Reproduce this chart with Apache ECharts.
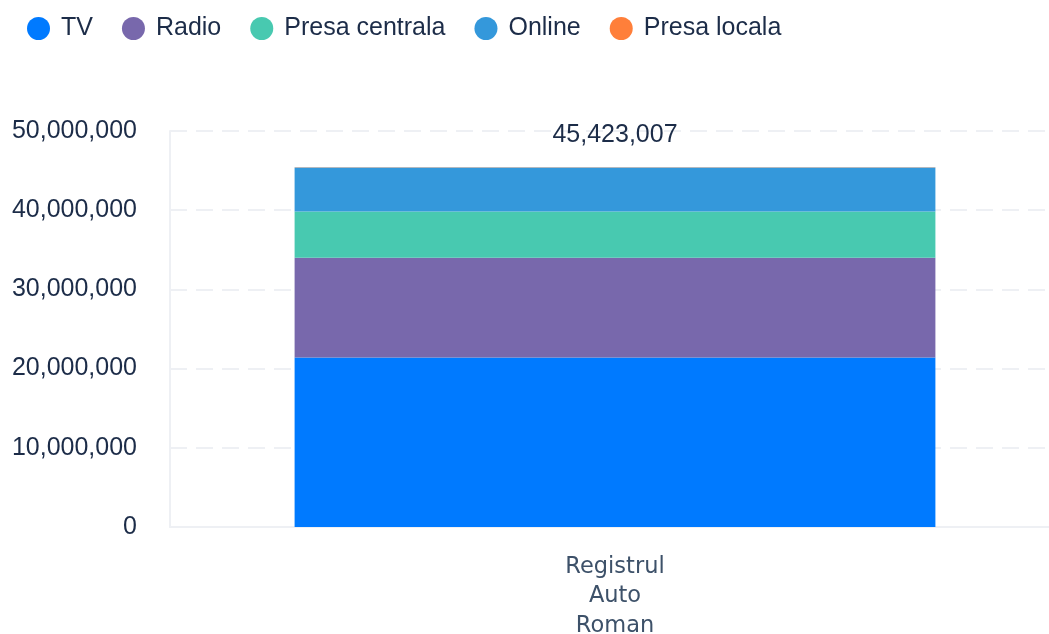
<!DOCTYPE html>
<html lang="en">
<head>
    <meta charset="UTF-8">
    <title>Registrul Auto Roman</title>
    <style>
        html,body{
            margin:0;
            padding:0;
            background:#fff;
        }
        #chart{
            width:1049px;
            height:634px;
        }
    </style>
</head>
<body>
<div id="chart"></div>
<script src="https://cdn.jsdelivr.net/npm/echarts@6/dist/echarts.min.js"></script>
<script>
    var categories = ['Registrul\nAuto\nRoman'];
    var seriesNames = ['TV', 'Radio', 'Presa centrala', 'Online', 'Presa locala'];
    var tvValues = [21400000];
    var radioValues = [12600000];
    var presaCentralaValues = [5850000];
    var onlineValues = [5540000];
    var presaLocalaValues = [33007];
    var yTicks = [0, 10000000, 20000000, 30000000, 40000000, 50000000];

    var seriesColors = ['#007aff', '#7868ac', '#48c9b0', '#3498db', '#ff7f3a'];
    var allValues = [tvValues, radioValues, presaCentralaValues, onlineValues, presaLocalaValues];

    function fmt(v) {
        return Number(v).toLocaleString('en-US');
    }

    // total of the stack for each category
    var totals = categories.map(function (c, i) {
        var s = 0;
        allValues.forEach(function (arr) { s += arr[i]; });
        return s;
    });

    var series = seriesNames.map(function (name, k) {
        var last = k === seriesNames.length - 1;
        return {
            name: name,
            type: 'bar',
            stack: 'total',
            barWidth: '72%',
            data: allValues[k],
            itemStyle: {color: seriesColors[k]},
            label: {
                show: last,
                position: 'top',
                distance: 20,
                fontFamily: 'Liberation Sans',
                fontSize: 25,
                color: '#1c2c48',
                formatter: function (p) { return fmt(totals[p.dataIndex]); }
            }
        };
    });

    var option = {
        animation: false,
        backgroundColor: '#fff',
        color: seriesColors,
        legend: {
            top: 11,
            left: 22,
            icon: 'circle',
            itemWidth: 23,
            itemHeight: 23,
            itemGap: 29,
            textStyle: {
                fontFamily: 'Liberation Sans',
                fontSize: 25,
                color: '#1c2c48',
                padding: [0, 0, 0, 6]
            },
            data: seriesNames
        },
        grid: {
            left: 170,
            right: -11,
            top: 131,
            bottom: 107,
            containLabel: false,
            outerBoundsMode: 'none'
        },
        xAxis: {
            type: 'category',
            data: categories,
            axisLine: {lineStyle: {color: '#eef0f4', width: 2}},
            axisTick: {show: false},
            axisLabel: {
                margin: 25,
                fontFamily: 'DejaVu Sans',
                fontSize: 22.5,
                lineHeight: 29.5,
                color: '#3d5169'
            }
        },
        yAxis: {
            type: 'value',
            min: yTicks[0],
            max: yTicks[yTicks.length - 1],
            interval: yTicks[1] - yTicks[0],
            axisLine: {show: true, lineStyle: {color: '#eef0f4', width: 2}},
            axisTick: {show: false},
            splitLine: {lineStyle: {color: '#eef0f4', width: 2, type: [17, 9]}},
            axisLabel: {
                margin: 33,
                fontFamily: 'Liberation Sans',
                fontSize: 25,
                color: '#1c2c48',
                formatter: fmt
            }
        },
        series: series
    };

    var chart = echarts.init(document.getElementById('chart'));
    chart.setOption(option);
</script>
</body>
</html>
